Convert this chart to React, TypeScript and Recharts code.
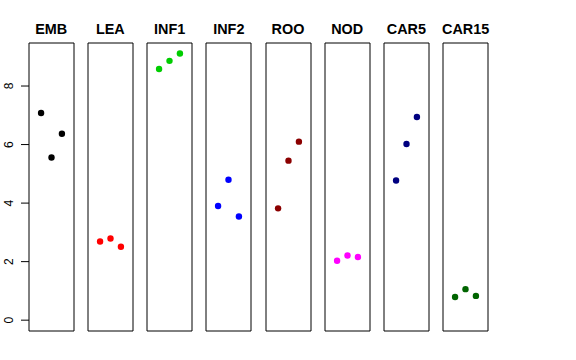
import { ScatterChart, Scatter, XAxis, YAxis, ReferenceArea } from 'recharts';

const panels = ['EMB', 'LEA', 'INF1', 'INF2', 'ROO', 'NOD', 'CAR5', 'CAR15'];
const colors = ['#000000', '#FF0000', '#00CD00', '#0000FF', '#8B0000', '#FF00FF', '#000080', '#006400'];
const rep1 = [7.08, 2.69, 8.58, 3.9, 3.82, 2.03, 4.77, 0.79];
const rep2 = [5.56, 2.79, 8.86, 4.8, 5.45, 2.21, 6.02, 1.06];
const rep3 = [6.37, 2.51, 9.11, 3.54, 6.1, 2.16, 6.94, 0.83];
const yTicks = [0, 2, 4, 6, 8];

const X_DOMAIN: [number, number] = [-0.16, 4.16];
const Y_DOMAIN: [number, number] = [-0.37, 9.47];
const FONT = '"Liberation Sans", Arial, Helvetica, sans-serif';

const PANEL_W = 45;
const PANEL_H = 288;
const PANEL_TOP = 43;
const FIRST_LEFT = 28.7;
const STEP = 59.2;
const AXIS_W = 29;

function YTick({ y, payload }: any) {
  const tx = 13;
  return (
    <text
      x={tx}
      y={y}
      transform={`rotate(-90 ${tx} ${y})`}
      textAnchor="middle"
      fontSize={12}
      fontFamily={FONT}
      fill="#000"
    >
      {payload.value}
    </text>
  );
}

function Panel({ index }: { index: number }) {
  const data = [
    { x: 1, y: rep1[index] },
    { x: 2, y: rep2[index] },
    { x: 3, y: rep3[index] },
  ];
  const first = index === 0;
  const left = FIRST_LEFT + STEP * index;
  const chartLeft = first ? left - AXIS_W : left - 1;
  const width = first ? AXIS_W + PANEL_W + 1 : PANEL_W + 2;

  return (
    <>
      <div
        style={{
          position: 'absolute',
          left: left - 20,
          width: PANEL_W + 40,
          top: 20,
          textAlign: 'center',
          fontFamily: FONT,
          fontWeight: 'bold',
          fontSize: 14.4,
          lineHeight: '18px',
        }}
      >
        {panels[index]}
      </div>
      <div style={{ position: 'absolute', left: chartLeft, top: PANEL_TOP - 1 }}>
        <ScatterChart
          width={width}
          height={PANEL_H + 2}
          margin={{ top: 1, right: 1, bottom: 1, left: first ? 0 : 1 }}
        >
          <XAxis type="number" dataKey="x" domain={X_DOMAIN} hide allowDataOverflow />
          <YAxis
            type="number"
            dataKey="y"
            domain={Y_DOMAIN}
            ticks={yTicks}
            hide={!first}
            width={AXIS_W}
            axisLine={false}
            tickSize={8}
            tickLine={{ stroke: '#000' }}
            tick={<YTick />}
            allowDataOverflow
            interval={0}
          />
          <ReferenceArea
            x1={X_DOMAIN[0]}
            x2={X_DOMAIN[1]}
            y1={Y_DOMAIN[0]}
            y2={Y_DOMAIN[1]}
            fill="none"
            fillOpacity={0}
            stroke="#000"
            strokeWidth={1}
            ifOverflow="visible"
          />
          <Scatter
            data={data}
            fill={colors[index]}
            isAnimationActive={false}
            shape={(p: any) => <circle cx={p.cx} cy={p.cy} r={3.2} fill={colors[index]} />}
          />
        </ScatterChart>
      </div>
    </>
  );
}

export default function App() {
  return (
    <div style={{ position: 'absolute', left: 0, top: 0, width: 576, height: 360, background: '#fff' }}>
      {panels.map((_, i) => (
        <Panel key={panels[i]} index={i} />
      ))}
    </div>
  );
}
